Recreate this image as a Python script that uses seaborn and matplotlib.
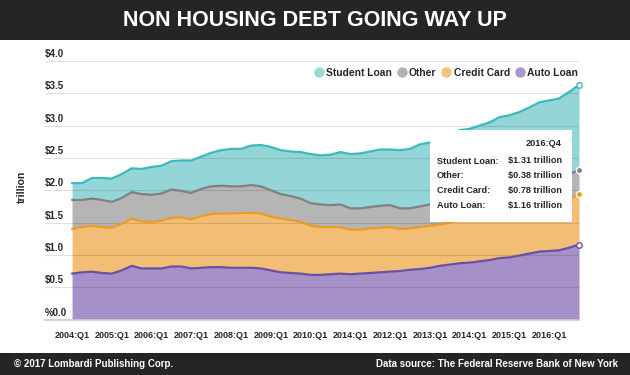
import pandas as pd
import matplotlib.pyplot as plt
import seaborn as sns
from matplotlib.patches import Rectangle
from matplotlib.lines import Line2D
from matplotlib import transforms

# quarterly values, trillions of dollars (2004:Q1 .. 2016:Q4)
quarters = [f"{y}:Q{q}" for y in range(2004, 2017) for q in range(1, 5)]

auto_loan = [0.71, 0.73, 0.74, 0.72, 0.71, 0.76, 0.83, 0.79, 0.79, 0.79, 0.82, 0.82,
             0.79, 0.80, 0.81, 0.81, 0.80, 0.80, 0.80, 0.79, 0.76, 0.73, 0.72, 0.71,
             0.69, 0.69, 0.70, 0.71, 0.70, 0.71, 0.72, 0.73, 0.74, 0.75, 0.77, 0.78,
             0.80, 0.83, 0.85, 0.87, 0.88, 0.90, 0.92, 0.95, 0.96, 0.99, 1.02, 1.05,
             1.06, 1.07, 1.11, 1.16]
credit_card = [0.69, 0.70, 0.71, 0.71, 0.71, 0.72, 0.73, 0.73, 0.72, 0.74, 0.75, 0.76,
               0.76, 0.80, 0.82, 0.83, 0.84, 0.85, 0.85, 0.85, 0.83, 0.83, 0.82, 0.80,
               0.76, 0.74, 0.73, 0.72, 0.69, 0.68, 0.69, 0.69, 0.69, 0.65, 0.64, 0.65,
               0.65, 0.64, 0.65, 0.67, 0.66, 0.67, 0.68, 0.70, 0.68, 0.69, 0.71, 0.73,
               0.71, 0.73, 0.75, 0.78]
other = [0.45, 0.42, 0.42, 0.42, 0.40, 0.40, 0.41, 0.42, 0.42, 0.42, 0.44, 0.41,
         0.41, 0.42, 0.43, 0.43, 0.42, 0.41, 0.43, 0.42, 0.41, 0.38, 0.37, 0.36,
         0.35, 0.35, 0.34, 0.35, 0.33, 0.33, 0.33, 0.34, 0.34, 0.32, 0.31, 0.32,
         0.33, 0.33, 0.34, 0.34, 0.34, 0.35, 0.35, 0.35, 0.36, 0.36, 0.37, 0.37,
         0.37, 0.37, 0.38, 0.38]
student_loan = [0.26, 0.26, 0.32, 0.34, 0.36, 0.37, 0.37, 0.39, 0.43, 0.43, 0.44, 0.47,
                0.50, 0.50, 0.52, 0.55, 0.58, 0.58, 0.61, 0.64, 0.67, 0.68, 0.69, 0.72,
                0.76, 0.76, 0.78, 0.81, 0.84, 0.85, 0.86, 0.87, 0.86, 0.90, 0.92, 0.96,
                0.96, 0.98, 1.02, 1.05, 1.07, 1.08, 1.10, 1.13, 1.16, 1.17, 1.18, 1.21,
                1.25, 1.25, 1.28, 1.31]

tick_labels = ["2004:Q1", "2005:Q1", "2006:Q1", "2007:Q1", "2008:Q1", "2009:Q1", "2010:Q1",
               "2014:Q1", "2012:Q1", "2013:Q1", "2014:Q1", "2015:Q1", "2016:Q1"]
y_labels = ["%0.0", "$0.5", "$1.0", "$1.5", "$2.0", "$2.5", "$3.0", "$3.5", "$4.0"]

series = ["Auto Loan", "Credit Card", "Other", "Student Loan"]
fill_colors = ["#a591c8", "#f2bd74", "#b5b5b5", "#94d6d7"]
line_colors = ["#6a4fa6", "#ef9a22", "#808080", "#3cb9bc"]

sns.set_theme(style="white")
plt.rcParams['font.family'] = ['Liberation Sans', 'DejaVu Sans']
narrow = ['Liberation Sans Narrow', 'Liberation Sans', 'DejaVu Sans']

df = pd.DataFrame({"Auto Loan": auto_loan, "Credit Card": credit_card,
                   "Other": other, "Student Loan": student_loan})
df["q"] = range(len(quarters))
tops = df[series].cumsum(axis=1)
tops["q"] = df["q"]
long = tops.melt(id_vars="q", var_name="series", value_name="top")

fig = plt.figure(figsize=(6.3, 3.75), dpi=100)
ax = fig.add_axes([45 / 630, 55.5 / 375, 534 / 630, 258.5 / 375])

ax.stackplot(df["q"], [df[s] for s in series], colors=fill_colors, linewidth=0, zorder=1)
sns.lineplot(data=long, x="q", y="top", hue="series", palette=dict(zip(series, line_colors)),
             linewidth=1.6, legend=False, ax=ax, zorder=3)

# end point markers
last = tops.iloc[-1]
for s, c in zip(series, line_colors):
    if s in ("Auto Loan", "Student Loan"):
        ax.scatter(51, last[s], s=16, facecolor="white", edgecolor=c, linewidth=1, zorder=6, clip_on=False)
    else:
        ax.scatter(51, last[s], s=20, facecolor=c, edgecolor="white", linewidth=1, zorder=6, clip_on=False)

ax.set_xlim(-2.72, 51)
ax.set_ylim(0, 4.0)
ax.set_xticks(range(0, 52, 4))
ax.set_xticklabels(tick_labels, fontsize=6.5, fontweight="bold")
ax.set_yticks([i * 0.5 for i in range(9)])
ax.set_yticklabels([])
ax.tick_params(axis="x", direction="out", length=4, color="#cccccc", pad=4)
ax.tick_params(axis="y", length=0)
ax.set_axisbelow(False)
ax.yaxis.grid(True, color="black", alpha=0.12, linewidth=0.8)
ax.set_xlabel("")
ax.set_ylabel("")
for sp in ["top", "right", "left"]:
    ax.spines[sp].set_visible(False)
ax.spines["bottom"].set_color("#cccccc")

lab_tr = transforms.offset_copy(ax.get_yaxis_transform(), fig=fig, x=0, y=2, units="dots")
for i, t in enumerate(y_labels):
    ax.text(0, i * 0.5, t, transform=lab_tr, ha="left", va="bottom", fontsize=7, fontweight="bold")

handles = [Line2D([], [], marker="o", linestyle="", markersize=6.5, markerfacecolor=c, markeredgecolor=c)
           for c in ["#9adada", "#b3b3b3", "#f3c27b", "#aa97cd"]]
ax.legend(handles, ["Student Loan", "Other", "Credit Card", "Auto Loan"], loc="upper right",
          bbox_to_anchor=(1.01, 1.0), ncol=4, frameon=False,
          prop={"weight": "bold", "size": 7.4}, handletextpad=0.35, columnspacing=0.6,
          handlelength=0.7, borderaxespad=0.25)

# title and footer bars
fig.patches.append(Rectangle((0, 1 - 40 / 375), 1, 40 / 375, transform=fig.transFigure,
                             facecolor="#262424", edgecolor="none", zorder=0))
fig.patches.append(Rectangle((0, 0), 1, 22 / 375, transform=fig.transFigure,
                             facecolor="#262424", edgecolor="none", zorder=0))
fig.text(0.5, 1 - 20 / 375, "NON HOUSING DEBT GOING WAY UP", color="white", ha="center",
         va="center", fontsize=15.5, fontweight="bold", family=narrow)
fig.text(14 / 630, 11 / 375, "© 2017 Lombardi Publishing Corp.", color="white", ha="left",
         va="center", fontsize=7, fontweight="bold")
fig.text(618 / 630, 11 / 375, "Data source: The Federal Reserve Bank of New York", color="white",
         ha="right", va="center", fontsize=7, fontweight="bold")
fig.text(21.7 / 630, 1 - 187 / 375, "trillion", rotation=90, ha="center", va="center",
         fontsize=7.5, fontweight="bold")

# tooltip box
fig.patches.append(Rectangle((430 / 630, 1 - 222 / 375), 142 / 630, 92 / 375, transform=fig.transFigure,
                             facecolor="white", edgecolor="none", zorder=5))
fig.text(562 / 630, 1 - 143 / 375, "2016:Q4", ha="right", va="center", fontsize=6.6,
         fontweight="bold", family=narrow, zorder=6)
tip_rows = [("Student Loan:", student_loan[-1]), ("Other:", other[-1]),
            ("Credit Card:", credit_card[-1]), ("Auto Loan:", auto_loan[-1])]
for i, (name, val) in enumerate(tip_rows):
    yy = 1 - (161 + i * 14.8) / 375
    fig.text(437 / 630, yy, name, ha="left", va="center", fontsize=6.6, fontweight="bold",
             family=narrow, zorder=6)
    fig.text(562 / 630, yy, f"${val:.2f} trillion", ha="right", va="center", fontsize=6.6,
             fontweight="bold", family=narrow, zorder=6)

plt.savefig("out.png", dpi=100)
